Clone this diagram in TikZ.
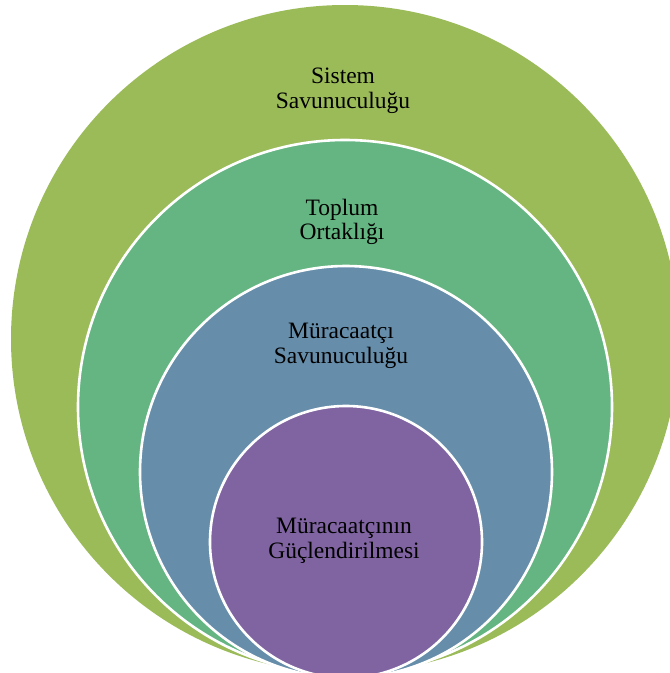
\documentclass[tikz,border=0pt]{standalone}
\usepackage{fontspec}
\setmainfont{Liberation Serif}
\definecolor{ringA}{HTML}{9BBB59}
\definecolor{ringB}{HTML}{64B581}
\definecolor{ringC}{HTML}{668EAB}
\definecolor{ringD}{HTML}{8064A2}
\tikzset{
  ring/.style={line width=2.6pt, draw=white},
  lbl/.style={align=center, font=\fontsize{23.5}{24.5}\selectfont, text=black, inner sep=0pt}
}
\begin{document}
\begin{tikzpicture}[x=1pt,y=-1pt]
\useasboundingbox (0,0) rectangle (670,673);
\begin{scope}
\clip (0,0) rectangle (670,673);
\fill[ringA] (345,339) circle[radius=334];
\filldraw[ring, fill=ringB] (345,407) circle[radius=267];
\filldraw[ring, fill=ringC] (346,472) circle[radius=206];
\filldraw[ring, fill=ringD] (346,542) circle[radius=136];
\end{scope}
\node[lbl] (sys) at (343,91) {Sistem\\Savunuculuğu};
\node[lbl] (top) at (342,222) {Toplum\\Ortaklığı};
\node[lbl] (mur) at (341,346) {Müracaatçı\\Savunuculuğu};
\node[lbl] (guc) at (344,541) {Müracaatçının\\Güçlendirilmesi};
\end{tikzpicture}
\end{document}
